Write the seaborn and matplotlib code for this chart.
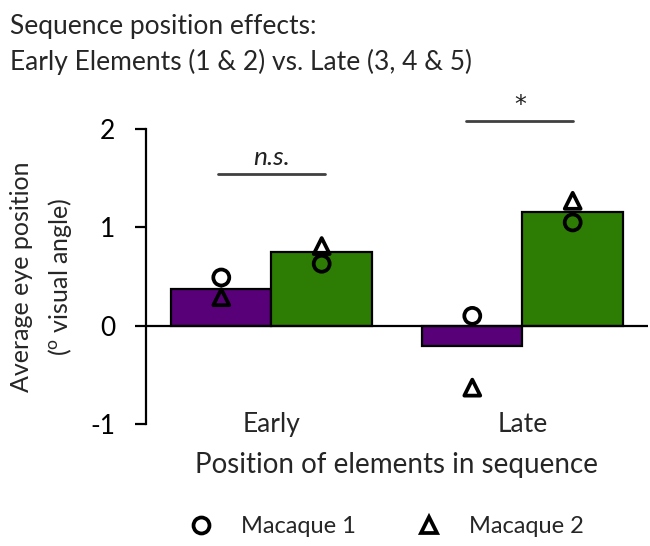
import matplotlib
matplotlib.use("Agg")
import matplotlib.pyplot as plt
from matplotlib.lines import Line2D
import numpy as np
import pandas as pd
import seaborn as sns

# Data
positions = ["Early", "Late"]
conditions = ["Condition A", "Condition B"]
bar_means = {"Condition A": [0.37, -0.21], "Condition B": [0.75, 1.16]}
macaque1 = {"Condition A": [0.49, 0.10], "Condition B": [0.63, 1.05]}
macaque2 = {"Condition A": [0.29, -0.63], "Condition B": [0.81, 1.27]}
sig_labels = ["n.s.", "*"]
y_ticks = [-1, 0, 1, 2]

purple = "#580078"
green = "#2D7D05"

sns.set_style("white")
plt.rcParams["font.family"] = ["Lato", "DejaVu Sans"]


def long_frame(values, name):
    rows = []
    for cond in conditions:
        for pos, v in zip(positions, values[cond]):
            rows.append({"position": pos, "condition": cond, name: v})
    return pd.DataFrame(rows)


bars = long_frame(bar_means, "value")
m1 = long_frame(macaque1, "value")
m2 = long_frame(macaque2, "value")

fig = plt.figure(figsize=(6.5, 5.46), dpi=100)
ax = fig.add_axes([0.2246, 0.2234, 0.7723, 0.5403])

sns.barplot(data=bars, x="position", y="value", hue="condition",
            order=positions, hue_order=conditions,
            palette=[purple, green], saturation=1, width=0.8,
            edgecolor="black", linewidth=1.6, legend=False, ax=ax)

n_before = len(ax.collections)
sns.stripplot(data=m1, x="position", y="value", hue="condition",
              order=positions, hue_order=conditions, dodge=True, jitter=False,
              marker="o", s=11.5, linewidth=2.7, edgecolor="black",
              legend=False, ax=ax, zorder=5)
sns.stripplot(data=m2, x="position", y="value", hue="condition",
              order=positions, hue_order=conditions, dodge=True, jitter=False,
              marker="^", s=11.5, linewidth=2.7, edgecolor="black",
              legend=False, ax=ax, zorder=5)
for coll in ax.collections[n_before:]:
    coll.set_facecolors("none")
    coll.set_edgecolors("black")

# zero baseline
ax.axhline(0, color="black", lw=1.6, zorder=4)

# significance brackets
ax.plot([-0.213, 0.213], [1.54, 1.54], color="#404040", lw=2, clip_on=False)
ax.text(0.0, 1.59, sig_labels[0], ha="center", va="bottom",
        fontsize=19, style="italic", color="#222222")
ax.plot([0.775, 1.2], [2.08, 2.08], color="#404040", lw=2, clip_on=False)
ax.text(0.99, 2.12, sig_labels[1], ha="center", va="bottom",
        fontsize=17, color="#222222", clip_on=False, family="DejaVu Sans")

ax.set_xlim(-0.5, 1.5)
ax.set_ylim(-1, 2)
ax.set_yticks(y_ticks)
ax.set_yticklabels([str(t) for t in y_ticks], fontsize=19)
ax.set_xticks(range(len(positions)))
ax.set_xticklabels(positions, fontsize=19)
ax.tick_params(axis="x", length=0, pad=-9)
ax.tick_params(axis="y", direction="out", length=8, width=1.6, pad=14,
               left=True, colors="black")
for side in ["top", "right", "bottom"]:
    ax.spines[side].set_visible(False)
ax.spines["left"].set_linewidth(1.6)
ax.spines["left"].set_color("black")

ax.set_xlabel("Position of elements in sequence", fontsize=20, labelpad=11)
ax.set_ylabel("Average eye position\n($^{\\mathregular{o}}$ visual angle)",
              fontsize=18, labelpad=12, linespacing=1.6)

fig.text(0.015, 0.975, "Sequence position effects:\nEarly Elements (1 & 2) vs. Late (3, 4 & 5)",
         ha="left", va="top", fontsize=19, linespacing=1.5)

handles = [
    Line2D([], [], marker="o", ls="none", mfc="none", mec="black", mew=2.7, ms=11.5),
    Line2D([], [], marker="^", ls="none", mfc="none", mec="black", mew=2.7, ms=11.5),
]
fig.legend(handles, ["Macaque 1", "Macaque 2"], loc="center",
           bbox_to_anchor=(0.585, 0.036), ncol=2, frameon=False,
           fontsize=17, handletextpad=0.7, columnspacing=2.1)

fig.savefig("out.png", dpi=100)
